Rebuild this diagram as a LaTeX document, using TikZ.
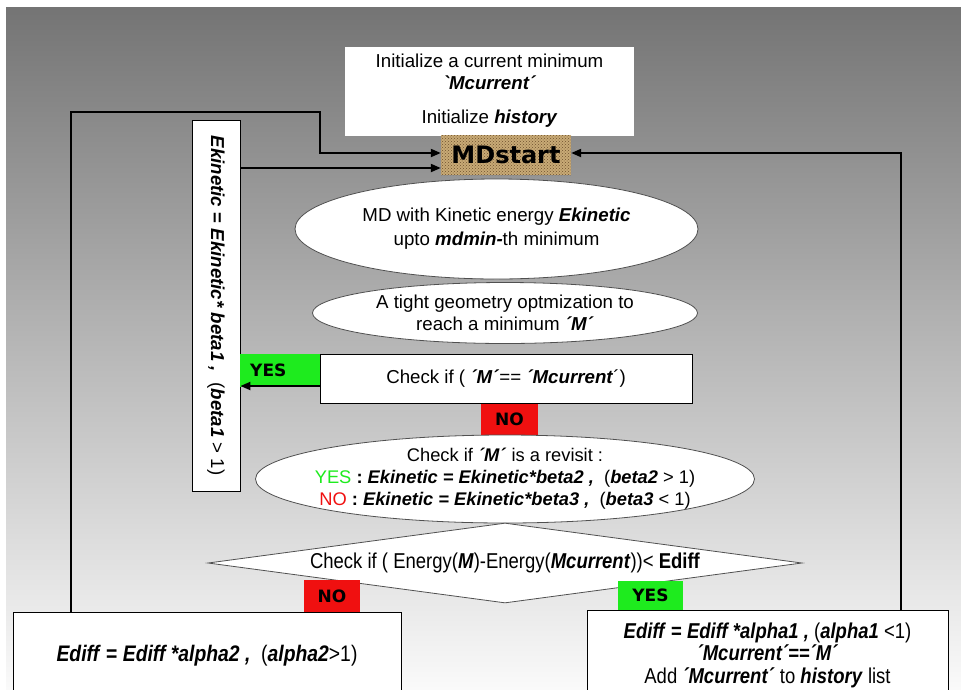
\documentclass[tikz,border=0pt]{standalone}
\usepackage{fontspec}
\setmainfont{Liberation Sans}
\newfontfamily\vfont{DejaVu Sans}
\newfontfamily\gravefont{Liberation Sans}
\newfontfamily\narrowfont[FakeStretch=0.86]{Liberation Sans}
\usetikzlibrary{shapes.geometric,arrows.meta,patterns,calc}
\definecolor{yesg}{RGB}{30,235,30}
\definecolor{nor}{RGB}{240,16,16}
\definecolor{burlap}{RGB}{200,170,118}
\definecolor{burlapdark}{RGB}{110,80,45}
\definecolor{edgegray}{RGB}{80,80,80}
\newcommand\bi[1]{\textbf{\textit{#1}}}
\begin{document}
\begin{tikzpicture}[x=1pt,y=-1pt,
  every node/.style={font=\fontsize{18.7}{22}\selectfont, inner sep=0pt},
  whitebox/.style={rectangle, fill=white, draw=black, line width=0.8pt, align=center},
  ellnode/.style={ellipse, fill=white, draw=edgegray, line width=0.8pt, align=center},
  flagbox/.style={rectangle, font=\vfont\bfseries\fontsize{17}{20}\selectfont},
  arr/.style={draw=black, line width=2pt, -{Triangle[length=10pt,width=8pt]}}
]
\useasboundingbox (0,0) rectangle (961,689);
\fill[white] (0,0) rectangle (961,689);
\shade[top color={rgb,255:red,116;green,116;blue,116}, bottom color={rgb,255:red,250;green,250;blue,250}] (6,7) rectangle (961,689);

% top init box
\node[rectangle, fill=white, minimum width=289pt, minimum height=89pt, align=center] (init) at (489.5,91)
  {Initialize a current minimum\\ \bi{{\gravefont\symbol{96}}Mcurrent´}\\[12pt] Initialize \bi{history}};

% MDstart
\node[rectangle, fill=burlap, postaction={pattern=crosshatch dots, pattern color=burlapdark},
  minimum width=130pt, minimum height=40pt, font=\vfont\bfseries\fontsize{24}{28}\selectfont] (md) at (506,155) {MDstart};

% ellipses
\node[ellnode, minimum width=403pt, minimum height=100pt, font=\fontsize{18.7}{24}\selectfont] (e1) at (496.5,229)
  {MD with Kinetic energy \bi{Ekinetic}\\ upto \bi{mdmin-}th minimum};
\node[ellnode, minimum width=385pt, minimum height=61pt, inner xsep=-8pt, inner ysep=-4pt] (e2) at (505,313)
  {A tight geometry optmization to\\ reach a minimum \bi{´M´}};

% check box
\node[whitebox, minimum width=372pt, minimum height=49pt] (chk) at (506,379)
  {Check if ( \bi{´M´}== \bi{´Mcurrent}´)};

% vertical Ekinetic box
\node[whitebox, minimum width=48pt, minimum height=371pt] (ek) at (216,305.5)
  {\rotatebox{-90}{\bi{Ekinetic} \textbf{=} \bi{Ekinetic* beta1 ,}~ (\bi{beta1} > 1)}};

% YES / NO flags
\node[flagbox, fill=yesg, text width=60pt, inner xsep=10pt, minimum height=33pt, align=left, anchor=north west] (yes1) at (240,354) {YES};
\node[flagbox, fill=nor, minimum width=57pt, minimum height=31pt] (no1) at (509.5,419.5) {NO};

% revisit ellipse
\node[ellnode, minimum width=499pt, minimum height=88pt, inner xsep=-20pt, inner ysep=-6pt, font=\fontsize{18.3}{22}\selectfont] (e3) at (505,479)
  {Check if \bi{´M´} is a revisit :\\
   {\color{yesg}YES} \textbf{:} \bi{Ekinetic = Ekinetic*beta2 ,}~ (\bi{beta2} > 1)\\
   {\color{nor}NO} \textbf{:} \bi{Ekinetic = Ekinetic*beta3 ,}~ (\bi{beta3} < 1)};

% diamond
\node[diamond, aspect=7.4, fill=white, draw=edgegray, line width=0.8pt, minimum width=594pt, minimum height=80pt,
  font=\narrowfont\fontsize{21.5}{24}\selectfont] (dia) at (505,563)
  {Check if ( Energy(\bi{M})-Energy(\bi{Mcurrent}))< \textbf{Ediff}};

\node[flagbox, fill=nor, minimum width=56pt, minimum height=32pt] (no2) at (332,596) {NO};
\node[flagbox, fill=yesg, minimum width=65pt, minimum height=29pt] (yes2) at (650.5,595.5) {YES};

% bottom boxes
\node[whitebox, minimum width=388pt, minimum height=88pt, font=\narrowfont\fontsize{22.5}{24}\selectfont] (bl) at (207,656)
  {\bi{Ediff} \textbf{=} \bi{Ediff *alpha2 ,}~ (\bi{alpha2}>1)};
\node[whitebox, minimum width=361pt, minimum height=90pt, font=\narrowfont\fontsize{21.5}{22.5}\selectfont] (br) at (767.5,655)
  {\bi{Ediff} \textbf{=} \bi{Ediff *alpha1 ,} (\bi{alpha1} <1)\\ \bi{´Mcurrent´==´M´}\\ Add \bi{´Mcurrent´} to \bi{history} list};

% connectors
\coordinate (blT) at ($(bl.north west)+(58,0)$);
\coordinate (lp) at (320,112);
\coordinate (mdW) at ($(md.west)+(0,-2)$);
\draw[arr] (blT) |- (lp) |- (mdW);
\coordinate (mdW2) at ($(md.west)+(0,13)$);
\draw[arr] (ek.east |- mdW2) -- (mdW2);
\coordinate (brT) at ($(br.north east)+(-47,0)$);
\coordinate (mdE) at ($(md.east)+(0,-2)$);
\draw[arr] (brT) |- (mdE);
\coordinate (chkW) at ($(chk.west)+(0,7)$);
\draw[arr] (chkW) -- (ek.east |- chkW);
\end{tikzpicture}
\end{document}
